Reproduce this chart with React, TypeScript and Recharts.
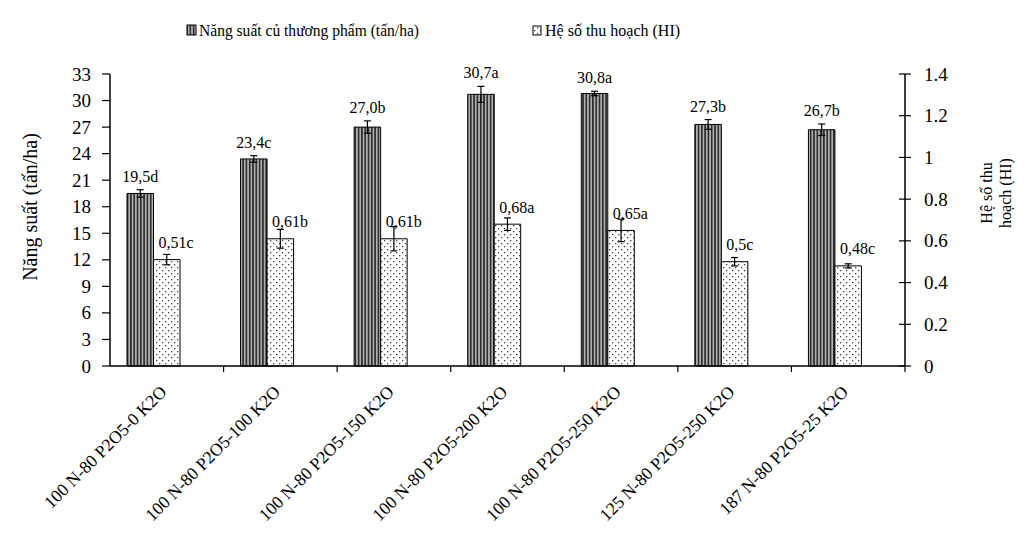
import React from "react";
import { BarChart, Bar, XAxis, YAxis, ErrorBar, LabelList } from "recharts";

const categories = [
  "100 N-80 P2O5-0 K2O",
  "100 N-80 P2O5-100 K2O",
  "100 N-80 P2O5-150 K2O",
  "100 N-80 P2O5-200 K2O",
  "100 N-80 P2O5-250 K2O",
  "125 N-80 P2O5-250 K2O",
  "187 N-80 P2O5-25 K2O",
];
const yieldValues = [19.5, 23.4, 27.0, 30.7, 30.8, 27.3, 26.7];
const yieldErr = [0.42, 0.37, 0.7, 0.9, 0.25, 0.55, 0.65];
const yieldLabels = ["19,5d", "23,4c", "27,0b", "30,7a", "30,8a", "27,3b", "26,7b"];
const hiValues = [0.51, 0.61, 0.61, 0.68, 0.65, 0.5, 0.48];
const hiErr = [0.025, 0.045, 0.058, 0.03, 0.054, 0.02, 0.01];
const hiLabels = ["0,51c", "0,61b", "0,61b", "0,68a", "0,65a", "0,5c", "0,48c"];
const leftTicks = [0, 3, 6, 9, 12, 15, 18, 21, 24, 27, 30, 33];
const rightTicks = [0, 0.2, 0.4, 0.6, 0.8, 1, 1.2, 1.4];
const legendNames = ["Năng suất củ thương phẩm (tấn/ha)", "Hệ số thu hoạch (HI)"];
const leftTitle = "Năng suất (tấn/ha)";
const rightTitleLines = ["Hệ số thu", "hoạch (HI)"];

const data = categories.map((c, i) => ({
  name: c,
  yield: yieldValues[i],
  yieldErr: yieldErr[i],
  yieldLabel: yieldLabels[i],
  hi: hiValues[i],
  hiErr: hiErr[i],
  hiLabel: hiLabels[i],
  spacer: null,
}));

const W = 1010;
const H = 526;
const M_TOP = 66;
const LEFT_W = 102;
const RIGHT_W = 113;
const X_H = 168;
const PLOT_W = W - LEFT_W - RIGHT_W;
const PLOT_H = H - M_TOP - X_H;
const BAND = PLOT_W / categories.length;
const FONT = "'Liberation Serif', 'Times New Roman', serif";
const TICK_FS = 19;
const XTICK_FS = 17.6;

const LeftTick = (props: any) => {
  const { x, y, payload } = props;
  return (
    <g>
      <line x1={x - 8} y1={y} x2={x} y2={y} stroke="#000" strokeWidth={1.2} />
      <text x={x - 19} y={y} dy={6.5} textAnchor="end" fontSize={TICK_FS} fontFamily={FONT} fill="#000">
        {payload.value}
      </text>
    </g>
  );
};

const RightTick = (props: any) => {
  const { x, y, payload } = props;
  return (
    <g>
      <line x1={x - 6} y1={y} x2={x + 6} y2={y} stroke="#000" strokeWidth={1.2} />
      <text x={x + 19} y={y} dy={6.5} textAnchor="start" fontSize={TICK_FS} fontFamily={FONT} fill="#000">
        {String(payload.value)}
      </text>
    </g>
  );
};

const XTick = (props: any) => {
  const { x, y, payload, index } = props;
  const bx = x - BAND / 2;
  const last = index === categories.length - 1;
  const tx = x + 1;
  const ty = y + 27;
  return (
    <g>
      {index > 0 && <line x1={bx} y1={y} x2={bx} y2={y + 6} stroke="#000" strokeWidth={1.2} />}
      {last && <line x1={x + BAND / 2} y1={y} x2={x + BAND / 2} y2={y + 6} stroke="#000" strokeWidth={1.2} />}
      <text
        x={tx}
        y={ty}
        textAnchor="end"
        fontSize={XTICK_FS}
        fontFamily={FONT}
        fill="#000"
        transform={`rotate(-45 ${tx} ${ty})`}
      >
        {payload.value}
      </text>
    </g>
  );
};

const YieldLabel = (props: any) => {
  const { x, y, width, value, index } = props;
  const errPx = (yieldErr[index] * PLOT_H) / 33;
  return (
    <text x={x + width / 2} y={y - 8 - errPx} textAnchor="middle" fontSize={16} fontFamily={FONT} fill="#000">
      {value}
    </text>
  );
};

const HiLabel = (props: any) => {
  const { x, y, value } = props;
  return (
    <text x={x + 5} y={y - 11.5} textAnchor="start" fontSize={16} fontFamily={FONT} fill="#000">
      {value}
    </text>
  );
};

const Patterns = ({ prefix }: { prefix: string }) => (
  <defs>
    <pattern id={`${prefix}stripe`} width={3.3} height={4} patternUnits="userSpaceOnUse">
      <rect x={0} y={0} width={3.3} height={4} fill="#b0b0b0" />
      <rect x={0} y={0} width={1.6} height={4} fill="#2a2a2a" />
    </pattern>
    <pattern id={`${prefix}dots`} width={6} height={6} patternUnits="userSpaceOnUse">
      <rect x={0} y={0} width={6} height={6} fill="#ffffff" />
      <rect x={1} y={1} width={1.3} height={1.3} fill="#444" />
      <rect x={4} y={4} width={1.3} height={1.3} fill="#444" />
    </pattern>
  </defs>
);

export default function App() {
  return (
    <div style={{ position: "relative", width: W, height: H }}>
      <BarChart
        width={W}
        height={H}
        data={data}
        margin={{ top: M_TOP, right: 0, bottom: 0, left: 0 }}
        barGap={0}
        barCategoryGap={0}
      >
        <Patterns prefix="c-" />
        <XAxis
          dataKey="name"
          xAxisId="x"
          height={X_H}
          interval={0}
          tickSize={0}
          tickMargin={0}
          tickLine={false}
          axisLine={{ stroke: "#000", strokeWidth: 1.5 }}
          tick={<XTick />}
        />
        <YAxis
          yAxisId="left"
          orientation="left"
          width={LEFT_W}
          domain={[0, 33]}
          ticks={leftTicks}
          interval={0}
          tickSize={0}
          tickMargin={0}
          tickLine={false}
          axisLine={{ stroke: "#000", strokeWidth: 1.5 }}
          tick={<LeftTick />}
        />
        <YAxis
          yAxisId="right"
          orientation="right"
          width={RIGHT_W}
          domain={[0, 1.4]}
          ticks={rightTicks}
          interval={0}
          tickSize={0}
          tickMargin={0}
          tickLine={false}
          axisLine={{ stroke: "#000", strokeWidth: 1.5 }}
          tick={<RightTick />}
        />
        <Bar
          dataKey="yield"
          xAxisId="x"
          yAxisId="left"
          barSize={26.5}
          fill="url(#c-stripe)"
          stroke="#000"
          strokeWidth={1}
          isAnimationActive={false}
        >
          <ErrorBar dataKey="yieldErr" width={3.5} stroke="#000" strokeWidth={1.2} direction="y" />
          <LabelList dataKey="yieldLabel" content={<YieldLabel />} />
        </Bar>
        <Bar
          dataKey="hi"
          xAxisId="x"
          yAxisId="right"
          barSize={26.5}
          fill="url(#c-dots)"
          stroke="#000"
          strokeWidth={1}
          isAnimationActive={false}
        >
          <ErrorBar dataKey="hiErr" width={3.5} stroke="#000" strokeWidth={1.2} direction="y" />
          <LabelList dataKey="hiLabel" content={<HiLabel />} />
        </Bar>
        <Bar
          dataKey="spacer"
          xAxisId="x"
          yAxisId="left"
          barSize={26.5}
          fill="none"
          isAnimationActive={false}
        />
      </BarChart>
      <svg
        width={W}
        height={H}
        style={{ position: "absolute", left: 0, top: 0, pointerEvents: "none" }}
      >
        <Patterns prefix="l-" />
        <rect x={179} y={17} width={9} height={10} fill="url(#l-stripe)" stroke="#000" strokeWidth={1} />
        <text x={191} y={28} fontSize={16} fontFamily={FONT} fill="#000" textLength={220} lengthAdjust="spacingAndGlyphs">
          {legendNames[0]}
        </text>
        <rect x={525} y={18} width={8} height={9} fill="url(#l-dots)" stroke="#000" strokeWidth={1} />
        <text x={537} y={28} fontSize={16} fontFamily={FONT} fill="#000">
          {legendNames[1]}
        </text>
        <text
          x={29}
          y={199}
          fontSize={20}
          fontFamily={FONT}
          fill="#000"
          textAnchor="middle"
          transform="rotate(-90 29 199)"
        >
          {leftTitle}
        </text>
        <text
          x={984}
          y={185}
          fontSize={16}
          fontFamily={FONT}
          fill="#000"
          textAnchor="middle"
          transform="rotate(-90 984 185)"
        >
          {rightTitleLines[0]}
        </text>
        <text
          x={1003}
          y={185}
          fontSize={16}
          fontFamily={FONT}
          fill="#000"
          textAnchor="middle"
          transform="rotate(-90 1003 185)"
        >
          {rightTitleLines[1]}
        </text>
      </svg>
    </div>
  );
}
